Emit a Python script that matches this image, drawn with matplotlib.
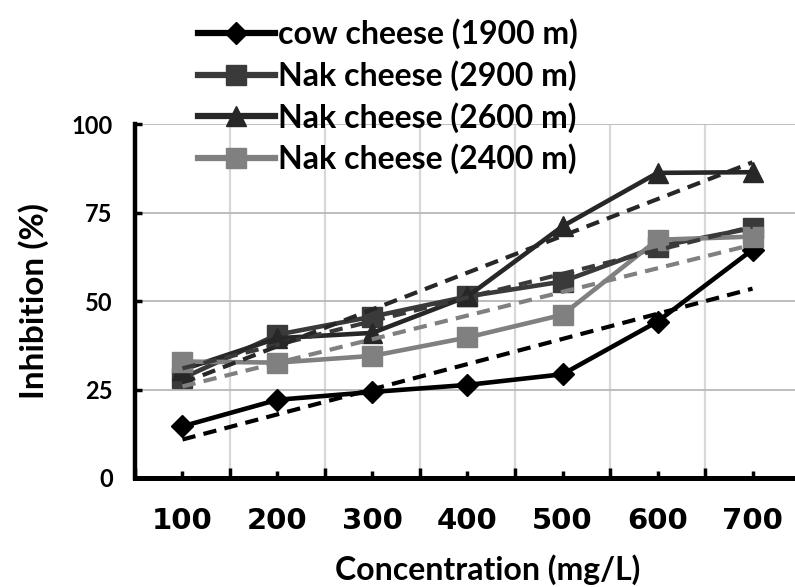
import matplotlib
matplotlib.use("Agg")
import matplotlib.pyplot as plt
import numpy as np
from matplotlib.ticker import FixedLocator

# ---- data ----
concentrations = ["100", "200", "300", "400", "500", "600", "700"]
cow_1900 = [14.6, 22.1, 24.3, 26.3, 29.3, 44.2, 64.5]
nak_2900 = [28.2, 40.5, 45.6, 51.3, 55.5, 65.4, 70.6]
nak_2600 = [30.6, 39.5, 41.0, 51.3, 71.1, 86.2, 86.4]
nak_2400 = [32.9, 32.6, 34.5, 39.7, 46.1, 67.3, 68.2]
labels = ["cow cheese (1900 m)", "Nak cheese (2900 m)",
          "Nak cheese (2600 m)", "Nak cheese (2400 m)"]
yticks = [0, 25, 50, 75, 100]

series = [cow_1900, nak_2900, nak_2600, nak_2400]
colors = ["#000000", "#3a3a3a", "#272727", "#808080"]
markers = ["D", "s", "^", "s"]
msizes = [11, 15, 14, 15]

plt.rcParams['font.family'] = ['Lato', 'DejaVu Sans']

fig = plt.figure(figsize=(7.95, 5.87), dpi=100)
ax = fig.add_axes([0.1698, 0.1857, 0.8365, 0.603])

x = np.arange(len(concentrations))
handles = []
for vals, c, m, ms, lab in zip(series, colors, markers, msizes, labels):
    h, = ax.plot(x, vals, color=c, lw=3.3, marker=m, markersize=ms,
                 markeredgecolor=c, markerfacecolor=c, label=lab, zorder=3)
    handles.append(h)

# linear trend lines
for vals, c in zip(series, colors):
    p = np.polyfit(x, vals, 1)
    ax.plot(x, np.polyval(p, x), color=c, lw=3.0, ls=(0, (3.2, 2)),
            dash_capstyle='butt', zorder=4)

ax.set_xlim(-0.5, 6.5)
ax.set_ylim(0, 100)

# gridlines
ax.xaxis.set_major_locator(FixedLocator(np.arange(-0.5, 7.0, 1.0)))
ax.xaxis.set_minor_locator(FixedLocator(x))
ax.set_xticklabels([])
ax.set_xticks(x, minor=True)
ax.set_xticklabels(concentrations, minor=True)
ax.set_yticks(yticks)
ax.set_yticklabels([str(v) for v in yticks])
ax.grid(True, axis='x', which='major', color='#d8d8d8', lw=1.6, zorder=0)
ax.grid(True, axis='y', which='major', color='#b8b8b8', lw=1.3, zorder=0)
ax.set_axisbelow(True)

for side in ['top', 'right']:
    ax.spines[side].set_visible(False)
ax.spines['left'].set_linewidth(3.2)
ax.spines['bottom'].set_linewidth(3.6)

ax.tick_params(axis='x', which='major', direction='in', length=7, width=2.5,
               color='black')
ax.tick_params(axis='x', which='minor', direction='in', length=5, width=2.5,
               color='black', pad=21, labelsize=21)
ax.tick_params(axis='y', which='major', direction='in', length=5, width=2.5,
               color='black', pad=16, labelsize=17)
for t in ax.get_xticklabels(minor=True):
    t.set_fontweight('bold')
    t.set_fontfamily(['DejaVu Sans'])
for t in ax.get_yticklabels():
    t.set_fontweight('bold')

ax.set_xlabel("Concentration (mg/L)", fontsize=23, fontweight='bold',
              labelpad=14)
ax.xaxis.label.set_x(0.53)
ax.set_ylabel("Inhibition (%)", fontsize=24, fontweight='bold', labelpad=16)

leg = fig.legend(handles=handles, loc='upper left',
                 bbox_to_anchor=(0.233, 0.990), frameon=False,
                 prop={'weight': 'bold', 'size': 23}, handlelength=2.4,
                 handletextpad=0.1, labelspacing=0.34, borderaxespad=0)
for lh in leg.get_lines():
    lh.set_linewidth(4.5)

fig.savefig("out.png", dpi=100)
